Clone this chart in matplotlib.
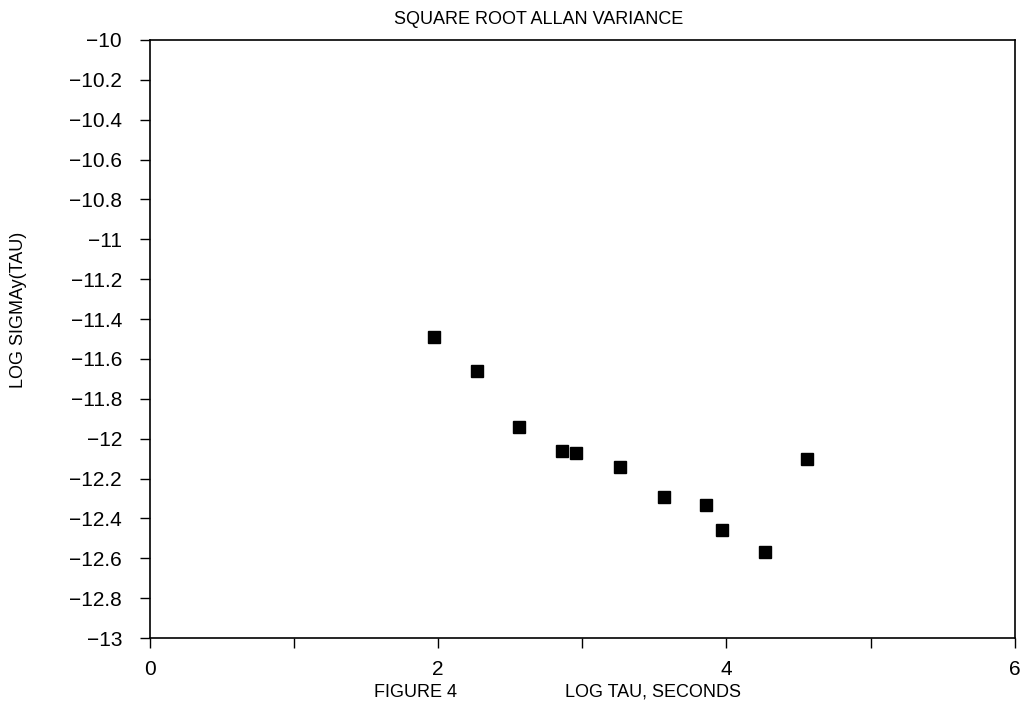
import matplotlib
matplotlib.use("Agg")
import matplotlib.pyplot as plt

# log tau (s) and log sigma_y(tau)
log_tau = [1.97, 2.27, 2.56, 2.86, 2.96, 3.26, 3.57, 3.86, 3.97, 4.27, 4.56]
log_sigma = [-11.49, -11.66, -11.94, -12.06, -12.07, -12.14, -12.29, -12.33, -12.46, -12.57, -12.10]

y_ticks = [-10, -10.2, -10.4, -10.6, -10.8, -11, -11.2, -11.4, -11.6, -11.8,
           -12, -12.2, -12.4, -12.6, -12.8, -13]
y_labels = ["\u221210", "\u221210.2", "\u221210.4", "\u221210.6", "\u221210.8", "\u221211",
            "\u221211.2", "\u221211.4", "\u221211.6", "\u221211.8", "\u221212", "\u221212.2",
            "\u221212.4", "\u221212.6", "\u221212.8", "\u221213"]
x_ticks = [0, 1, 2, 3, 4, 5, 6]
x_labels = ["0", "", "2", "", "4", "", "6"]

plt.rcParams["font.family"] = ["Liberation Sans", "DejaVu Sans"]

fig = plt.figure(figsize=(10.26, 7.13), dpi=100)
ax = fig.add_axes([0.146, 0.105, 0.843, 0.839])

ax.plot(log_tau, log_sigma, linestyle="none", marker="s", markersize=8,
        color="black")

ax.set_xlim(0, 6)
ax.set_ylim(-13, -10)
ax.set_xticks(x_ticks)
ax.set_xticklabels(x_labels, fontsize=15)
ax.set_yticks(y_ticks)
ax.set_yticklabels(y_labels, fontsize=15)
ax.tick_params(axis="both", direction="out", length=7, width=1.0, color="black")
ax.tick_params(axis="x", pad=9)
ax.tick_params(axis="y", pad=13)

for side in ["left", "right", "top", "bottom"]:
    ax.spines[side].set_linewidth(1.2)
    ax.spines[side].set_color("black")

fig.text(0.525, 0.972, "SQUARE ROOT ALLAN VARIANCE", ha="center", va="center", fontsize=13)
fig.text(0.018, 0.565, "LOG SIGMAy(TAU)", ha="center", va="center", rotation=90, fontsize=13)
fig.text(0.405, 0.029, "FIGURE 4", ha="center", va="center", fontsize=13)
fig.text(0.636, 0.029, "LOG TAU, SECONDS", ha="center", va="center", fontsize=13)

fig.savefig("out.png", dpi=100, facecolor="white")
